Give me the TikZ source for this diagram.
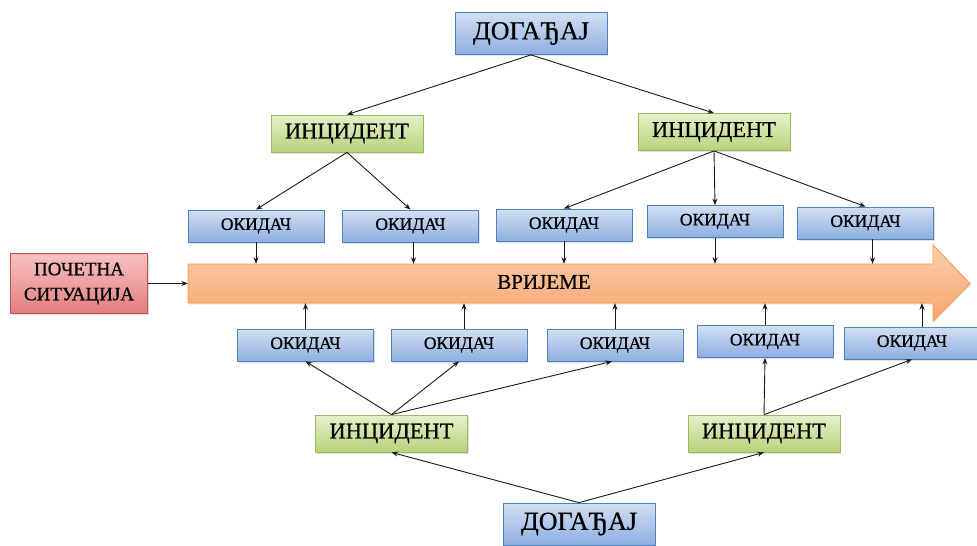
\documentclass[tikz,border=0pt]{standalone}
\usepackage{fontspec}
\setmainfont{Liberation Serif}[FakeBold=0.6]
\usetikzlibrary{arrows.meta,shadows}

\definecolor{blueTop}{HTML}{D2E0F3}
\definecolor{blueBot}{HTML}{8DAEE0}
\definecolor{blueLine}{HTML}{4F81BD}
\definecolor{greenTop}{HTML}{E6F1CC}
\definecolor{greenBot}{HTML}{B6D27A}
\definecolor{greenLine}{HTML}{9BBB59}
\definecolor{redTop}{HTML}{F8C2C2}
\definecolor{redBot}{HTML}{E27E7E}
\definecolor{redLine}{HTML}{C0504D}
\definecolor{orangeTop}{HTML}{FCCFAF}
\definecolor{orangeBot}{HTML}{F8A46E}
\definecolor{orangeLine}{HTML}{F79646}
\definecolor{lineCol}{HTML}{1A1A1A}

\tikzset{
  boxbase/.style={rectangle, draw, line width=0.8pt, inner sep=1pt,
    drop shadow={shadow xshift=1pt, shadow yshift=-1.5pt, opacity=0.25}},
  eventbox/.style={boxbase, top color=blueTop, bottom color=blueBot, draw=blueLine,
    minimum width=152pt, minimum height=42pt, font=\fontsize{26}{30}\selectfont},
  incbox/.style={boxbase, top color=greenTop, bottom color=greenBot, draw=greenLine,
    minimum width=152pt, minimum height=37pt, font=\fontsize{22.5}{26}\selectfont},
  trigbox/.style={boxbase, top color=blueTop, bottom color=blueBot, draw=blueLine,
    minimum width=136pt, minimum height=32pt, font=\fontsize{17.5}{20}\selectfont},
  startbox/.style={boxbase, top color=redTop, bottom color=redBot, draw=redLine,
    minimum width=137pt, minimum height=60pt, align=center,
    font=\fontsize{19}{25}\selectfont},
  conn/.style={draw=lineCol, line width=0.9pt, -{Stealth[length=6.5pt,width=5pt]}},
}

\begin{document}
\begin{tikzpicture}[x=1pt, y=-1pt]
\useasboundingbox (0,0) rectangle (977,546);

% time arrow
\path[top color=orangeTop, bottom color=orangeBot, draw=orangeLine, line width=0.8pt,
      drop shadow={shadow xshift=1pt, shadow yshift=-1.5pt, opacity=0.2}]
  (188,264) -- (933,264) -- (933,245) -- (970,283.5) -- (933,321) -- (933,303)
  -- (188,303) -- cycle;
\node[minimum width=745pt, minimum height=39pt, inner sep=0] (time) at (560.5,283.5) {};
\node[font=\fontsize{21}{24}\selectfont] (timelabel) at (544,282) {ВРИЈЕМЕ};

% start situation
\node[startbox] (start) at (79,283.5) {ПОЧЕТНА\\СИТУАЦИЈА};

% upper event tree
\node[eventbox] (evT) at (531,33.5) {ДОГАЂАЈ};
\node[incbox] (incTL) at (347,133.5) {ИНЦИДЕНТ};
\node[incbox] (incTR) at (714,132) {ИНЦИДЕНТ};
\node[trigbox] (t1) at (256,226) {ОКИДАЧ};
\node[trigbox] (t2) at (410.5,226) {ОКИДАЧ};
\node[trigbox] (t3) at (564,225) {ОКИДАЧ};
\node[trigbox] (t4) at (715,221.5) {ОКИДАЧ};
\node[trigbox] (t5) at (865.5,223) {ОКИДАЧ};

% lower event tree
\node[eventbox] (evB) at (579,524) {ДОГАЂАЈ};
\node[incbox] (incBL) at (391.5,433.5) {ИНЦИДЕНТ};
\node[incbox] (incBR) at (764,433.5) {ИНЦИДЕНТ};
\node[trigbox] (b1) at (305.5,345) {ОКИДАЧ};
\node[trigbox] (b2) at (459,345) {ОКИДАЧ};
\node[trigbox] (b3) at (615,345) {ОКИДАЧ};
\node[trigbox] (b4) at (765,341.5) {ОКИДАЧ};
\node[trigbox] (b5) at (912,343) {ОКИДАЧ};

% connectors, upper half
\draw[conn] (start.east) -- (time.west);
\draw[conn] (evT.south) -- (incTL.north);
\draw[conn] (evT.south) -- (incTR.north);
\draw[conn] (incTL.south) -- (t1.north);
\draw[conn] (incTL.south) -- (t2.north);
\draw[conn] (incTR.south) -- (t3.north);
\draw[conn] (incTR.south) -- (t4.north);
\draw[conn] (incTR.south) -- (t5.north);
\draw[conn] (t1.south) -- (t1.south |- time.north);
\draw[conn] ([xshift=3pt]t2.south) -- ([xshift=3pt]t2.south |- time.north);
\draw[conn] (t3.south) -- (t3.south |- time.north);
\draw[conn] (t4.south) -- (t4.south |- time.north);
\draw[conn] ([xshift=7pt]t5.south) -- ([xshift=7pt]t5.south |- time.north);

% connectors, lower half
\draw[conn] (evB.north) -- (incBL.south);
\draw[conn] (evB.north) -- (incBR.south);
\draw[conn] (incBL.north) -- (b1.south);
\draw[conn] (incBL.north) -- (b2.south);
\draw[conn] (incBL.north) -- ([xshift=-3pt]b3.south);
\draw[conn] (incBR.north) -- (b4.south);
\draw[conn] (incBR.north) -- (b5.south);
\draw[conn] (b1.north) -- (b1.north |- time.south);
\draw[conn] ([xshift=5pt]b2.north) -- ([xshift=5pt]b2.north |- time.south);
\draw[conn] (b3.north) -- (b3.north |- time.south);
\draw[conn] (b4.north) -- (b4.north |- time.south);
\draw[conn] ([xshift=10pt]b5.north) -- ([xshift=10pt]b5.north |- time.south);
\end{tikzpicture}
\end{document}
